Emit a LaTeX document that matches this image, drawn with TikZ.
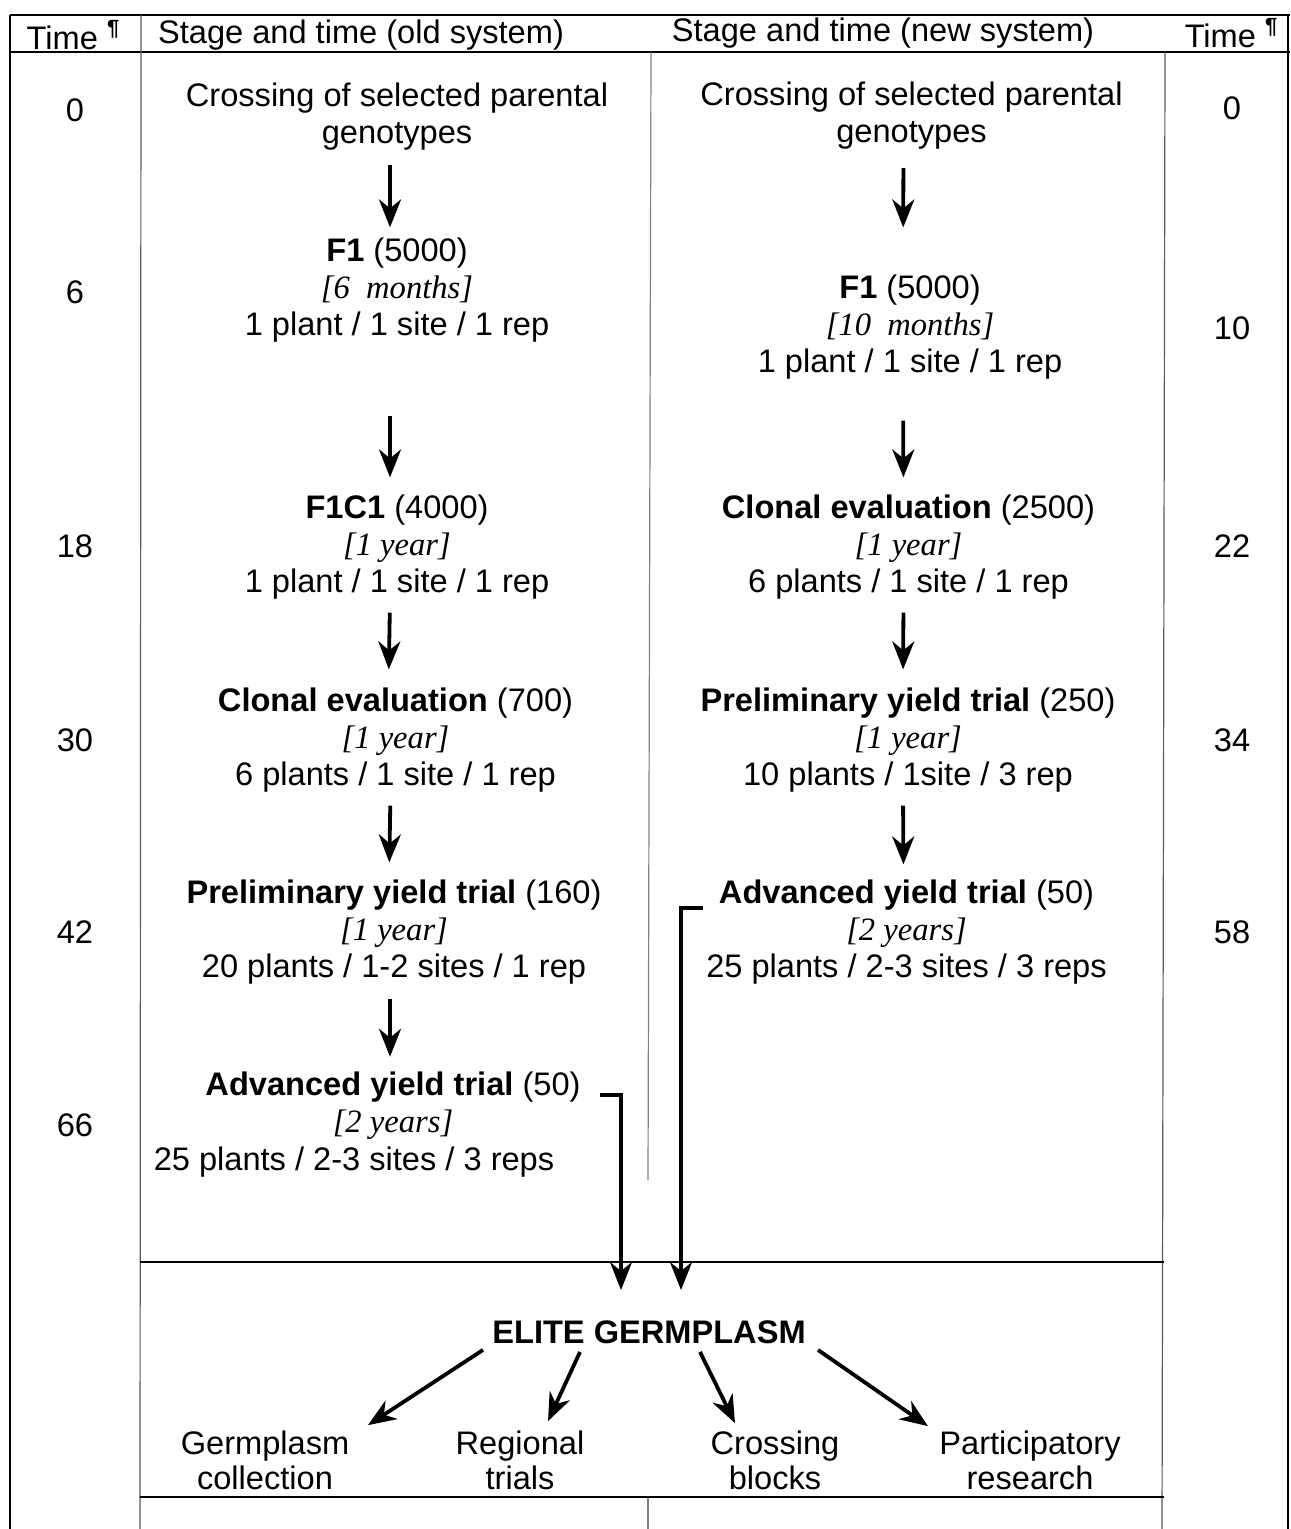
\documentclass[tikz,border=0pt]{standalone}
\usepackage{fontspec}
\setmainfont{Liberation Sans}
\newfontfamily\tms{Liberation Serif}
\usetikzlibrary{arrows.meta}
\newcommand{\dur}[1]{{\tms\itshape #1}}
\newcommand{\pil}{\raisebox{0.42em}{\fontsize{11}{11}\selectfont\bfseries ¶}}
\begin{document}
\begin{tikzpicture}[x=0.5pt,y=-0.5pt,
  every node/.style={inner sep=0pt, align=center, font=\fontsize{16.3}{18.5}\selectfont},
  tbl/.style={line width=1pt, black},
  thinl/.style={line width=0.6pt, black!65},
  arr/.style={line width=1.9pt, -{Stealth[length=14pt,width=11pt,inset=4.5pt]}, shorten <=6.5pt, shorten >=8.5pt},
  stage/.style={font=\fontsize{16.3}{18.5}\selectfont},
  outc/.style={font=\fontsize{16.3}{17.5}\selectfont},
  tnum/.style={font=\fontsize{16.3}{18.5}\selectfont}]
\useasboundingbox (0,0) rectangle (1290,1529);
% table lines
\draw[tbl] (10,15) -- (1290,15);
\draw[tbl] (10,52) -- (1290,52);
\draw[tbl] (10,15) -- (10,1529);
\draw[tbl] (1288,15) -- (1288,1529);
\draw[thinl] (141,15) -- (140,1529);
\draw[thinl] (1165,52) -- (1162,1529);
\draw[thinl, black!50] (651,52) -- (648,1180);
\draw[thinl, black!50] (648,1497) -- (648,1529);
\draw[line width=1.2pt] (140,1262) -- (1164,1262);
\draw[line width=1.2pt] (140,1497) -- (1164,1497);
% header
\node (hl) at (73,35) {Time~\pil};
\node (ho) at (361,35) {Stage and time (old system)};
\node (hn) at (883,33) {Stage and time (new system)};
\node (hr) at (1231,33) {Time~\pil};
% time numbers
\node[tnum] (tl0) at (75,110) {0};
\node[tnum] (tl1) at (75,292) {6};
\node[tnum] (tl2) at (75,546) {18};
\node[tnum] (tl3) at (75,740) {30};
\node[tnum] (tl4) at (75,932) {42};
\node[tnum] (tl5) at (75,1125) {66};
\node[tnum] (tr0) at (1232,108) {0};
\node[tnum] (tr1) at (1232,328) {10};
\node[tnum] (tr2) at (1232,546) {22};
\node[tnum] (tr3) at (1232,740) {34};
\node[tnum] (tr4) at (1232,932) {58};
% old system
\node[stage] (oc) at (397,116.5) {Crossing of selected parental\\genotypes};
\node[stage] (of1) at (397,290) {\textbf{F1} (5000)\\\dur{[6\ \ months]}\\1 plant / 1 site / 1 rep};
\node[stage] (of1c1) at (397,547) {\textbf{F1C1} (4000)\\\dur{[1 year]}\\1 plant / 1 site / 1 rep};
\node[stage] (oce) at (395.5,740) {\textbf{Clonal evaluation} (700)\\\dur{[1 year]}\\6 plants / 1 site / 1 rep};
\node[stage] (opy) at (394,932) {\textbf{Preliminary yield trial} (160)\\\dur{[1 year]}\\20 plants / 1-2 sites / 1 rep};
\node[stage] (oay) at (393,1106) {\textbf{Advanced yield trial} (50)\\\dur{[2 years]}};
\node[stage] (oayd) at (354,1162) {25 plants / 2-3 sites / 3 reps};
% new system
\node[stage] (nc) at (911.5,116) {Crossing of selected parental\\genotypes};
\node[stage] (nf1) at (910,327) {\textbf{F1} (5000)\\\dur{[10\ \ months]}\\1 plant / 1 site / 1 rep};
\node[stage] (nce) at (908.5,547) {\textbf{Clonal evaluation} (2500)\\\dur{[1 year]}\\6 plants / 1 site / 1 rep};
\node[stage] (npy) at (908,740) {\textbf{Preliminary yield trial} (250)\\\dur{[1 year]}\\10 plants / 1site / 3 rep};
\node[stage] (nay) at (906.5,932) {\textbf{Advanced yield trial} (50)\\\dur{[2 years]}\\25 plants / 2-3 sites / 3 reps};
% old arrows
\draw[arr, shorten <=7.3pt, shorten >=5pt] ([xshift=-3.5pt]oc.south) -- ([xshift=-3.5pt]of1.north);
\draw[arr, shorten <=36.5pt] ([xshift=-3.5pt]of1.south) -- ([xshift=-3.5pt]of1c1.north);
\draw[arr, shorten >=9pt] ([xshift=-3.5pt]of1c1.south) -- ([xshift=-3.5pt]oce.north);
\draw[arr] ([xshift=-2.5pt]oce.south) -- ([xshift=-2.5pt]opy.north);
\draw[arr, shorten <=7pt, shorten >=7.5pt] ([xshift=-2pt]opy.south) -- ([xshift=-1.5pt]oay.north);
% new arrows
\draw[arr, shorten <=9pt, shorten >=23.5pt] ([xshift=-4pt]nc.south) -- ([xshift=-3.5pt]nf1.north);
\draw[arr, shorten <=20.5pt] ([xshift=-3.5pt]nf1.south) -- ([xshift=-2.5pt]nce.north);
\draw[arr, shorten >=9pt] ([xshift=-2.5pt]nce.south) -- ([xshift=-2.5pt]npy.north);
\draw[arr, shorten >=7.5pt] ([xshift=-2.5pt]npy.south) -- ([xshift=-1.5pt]nay.north);
% elite
\node[font=\fontsize{16.3}{18.5}\selectfont\bfseries] (elite) at (649,1332) {ELITE GERMPLASM};
\coordinate (os) at ([shift={(9.5pt,5.5pt)}]oay.east);
\coordinate (ns) at ([shift={(-1.5pt,12pt)}]nay.west);
\draw[arr, shorten <=0pt, shorten >=15pt] (os) -| ([xshift=-14pt]elite.north);
\draw[arr, shorten <=0pt, shorten >=15pt] (ns) -| ([xshift=16pt]elite.north);
% outcomes
\node[outc] (gc) at (265,1460) {Germplasm\\collection};
\node[outc] (rt) at (520,1460) {Regional\\trials};
\node[outc] (cb) at (775,1460) {Crossing\\blocks};
\node[outc] (pr) at (1030,1460) {Participatory\\research};
\draw[arr, shorten <=0pt, shorten >=0pt] ([shift={(-83pt,-3pt)}]elite.south) -- ([shift={(51.5pt,2.5pt)}]gc.north);
\draw[arr, shorten <=0pt, shorten >=0pt] ([shift={(-34.5pt,-4pt)}]elite.south) -- ([shift={(14pt,4.5pt)}]rt.north);
\draw[arr, shorten <=0pt, shorten >=0pt] ([shift={(25.5pt,-4pt)}]elite.south) -- ([shift={(-20pt,3.5pt)}]cb.north);
\draw[arr, shorten <=0pt, shorten >=0pt] ([shift={(84.5pt,-3pt)}]elite.south) -- ([shift={(-51pt,2pt)}]pr.north);
\end{tikzpicture}
\end{document}
